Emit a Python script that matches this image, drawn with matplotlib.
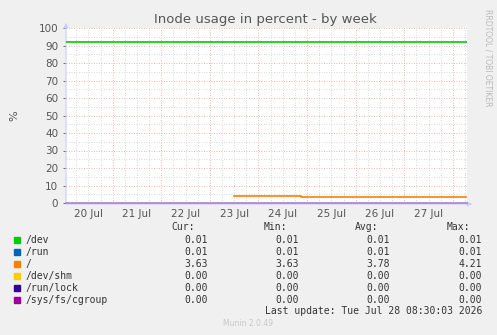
import matplotlib.pyplot as plt

# Data (x = days since 20 Jul 00:00)
day_labels = ["20 Jul", "21 Jul", "22 Jul", "23 Jul", "24 Jul", "25 Jul", "26 Jul", "27 Jul"]
x_start, x_end = 0.04, 8.29

dev_t = [0.04, 8.29]
dev_v = [92, 92]
root_t = [3.5, 4.87, 4.87, 8.26]
root_v = [4.21, 4.21, 3.63, 3.63]
zero_t = [0.04, 8.29]
zero_v = [0, 0]

names = ["/dev", "/run", "/", "/dev/shm", "/run/lock", "/sys/fs/cgroup"]
colors = ["#00cc00", "#0066b3", "#ff8000", "#ffcc00", "#330099", "#990099"]
cur = ["0.01", "0.01", "3.63", "0.00", "0.00", "0.00"]
mins = ["0.01", "0.01", "3.63", "0.00", "0.00", "0.00"]
avgs = ["0.01", "0.01", "3.78", "0.00", "0.00", "0.00"]
maxs = ["0.01", "0.01", "4.21", "0.00", "0.00", "0.00"]

W, H = 497, 335
fig = plt.figure(figsize=(W / 100, H / 100), dpi=100, facecolor="#f0f0f0")
ax = fig.add_axes([66 / W, 1 - 203 / H, (467 - 66) / W, (203 - 28) / H])
ax.set_facecolor("white")

ax.set_xlim(x_start, x_end)
ax.set_ylim(0, 100)

# grid
for y in range(5, 100, 10):
    ax.axhline(y, color="#cccccc", lw=0.6, ls=(0, (1, 2)), zorder=1)
for y in range(10, 101, 10):
    ax.axhline(y, color="#e6a0a0", lw=0.6, ls=(0, (1, 2)), zorder=1)
for i in range(0, 36):
    x = i * 0.25
    if x_start < x < x_end:
        c = "#e6a0a0" if i % 4 == 0 else "#cccccc"
        ax.axvline(x, color=c, lw=0.6, ls=(0, (1, 2)), zorder=1)

# axis arrows
ax.annotate("", xy=(66 / W, 1 - 20 / H), xytext=(66 / W, 1 - 204 / H), xycoords="figure fraction",
            arrowprops=dict(arrowstyle="-|>", color="#ccccff", lw=0.8, mutation_scale=7), zorder=2)
ax.annotate("", xy=(475 / W, 1 - 204 / H), xytext=(63 / W, 1 - 204 / H), xycoords="figure fraction",
            arrowprops=dict(arrowstyle="-|>", color="#ccccff", lw=0.8, mutation_scale=7), zorder=2)

ax.plot(dev_t, dev_v, color=colors[0], lw=1.2, zorder=5)
ax.plot(root_t, root_v, color=colors[2], lw=1.2, zorder=5)
ax.plot(zero_t, zero_v, color="#a880cc", lw=1.2, zorder=6, clip_on=False)

for s in ax.spines.values():
    s.set_visible(False)

ax.set_yticks(range(0, 101, 10))
ax.set_xticks([i + 0.5 for i in range(8)])
ax.set_xticklabels(day_labels)
ax.tick_params(axis="both", colors="#555555", labelsize=7.5, length=2, width=0.6)
ax.tick_params(axis="x", length=0, pad=4)
ax.set_ylabel("%", color="#555555", fontsize=8, labelpad=14)

fig.text(265 / W, 1 - 19 / H, "Inode usage in percent - by week", ha="center", va="center",
         fontsize=9.5, color="#555555")
fig.text(488 / W, 1 - 58 / H, "RRDTOOL / TOBI OETIKER", rotation=-90, ha="center", va="center",
         fontsize=5.5, color="#bbbbbb")

mono = dict(family="DejaVu Sans Mono", fontsize=7, color="#333333", va="center")
hy = 1 - 227 / H
for lab, xr in [("Cur:", 195), ("Min:", 287), ("Avg:", 378), ("Max:", 470)]:
    fig.text(xr / W, hy, lab, ha="right", **mono)
for i, n in enumerate(names):
    y = 240 + i * 12
    fig.patches.append(plt.Rectangle((14 / W, 1 - (y + 3) / H), 6 / W, 6 / H,
                                     transform=fig.transFigure, color=colors[i]))
    fig.text(26 / W, 1 - y / H, n, ha="left", **mono)
    for vals, xr in [(cur, 208), (mins, 299), (avgs, 390), (maxs, 482)]:
        fig.text(xr / W, 1 - y / H, vals[i], ha="right", **mono)

fig.text(482 / W, 1 - 311 / H, "Last update: Tue Jul 28 08:30:03 2026", ha="right", **mono)
fig.text(248 / W, 1 - 324 / H, "Munin 2.0.49", ha="center", va="center", fontsize=5.5, color="#c8c8c8")

plt.savefig("out.png", dpi=100, facecolor=fig.get_facecolor())
